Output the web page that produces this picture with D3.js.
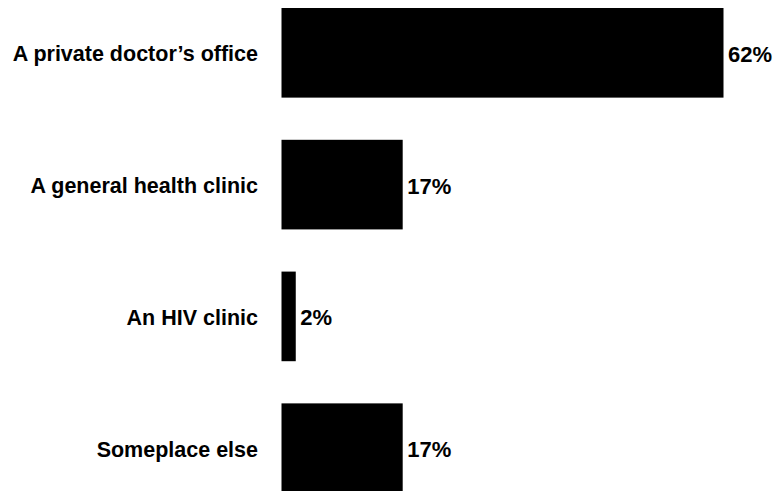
<!DOCTYPE html>
<html lang="en">
    <head>
        <meta charset="utf-8">
        <title>Where tested</title>
        <script src="https://cdn.jsdelivr.net/npm/d3@7"></script>
        <style>
            body { margin: 0; background: #fff; overflow: hidden; }
            svg { display: block; }
            svg text { font-family: "Liberation Sans", Arial, sans-serif; font-weight: bold; fill: #000; }
        </style>
    </head>
    <body>
        <div id="svg-container"></div>
        <script>
            const categories = ["A private doctor\u2019s office", "A general health clinic", "An HIV clinic", "Someplace else"];
            const values = [62, 17, 2, 17];
            const valueLabels = ["62%", "17%", "2%", "17%"];

            const width = 775,
                  height = 491;

            const svg = d3.select("#svg-container")
                .append("svg")
                .attr("width", width)
                .attr("height", height);

            // x scale: 62% reaches about x=723
            const xScale = d3.scaleLinear()
                .domain([0, 62])
                .range([281.5, 723.5]);

            const yScale = d3.scaleBand()
                .domain(categories)
                .range([8, 493])
                .paddingInner(0.32)
                .paddingOuter(0);

            svg.selectAll("rect")
                .data(values)
                .enter()
                .append("rect")
                .attr("x", xScale(0))
                .attr("y", (d, i) => yScale(categories[i]))
                .attr("width", (d) => xScale(d) - xScale(0))
                .attr("height", yScale.bandwidth())
                .attr("fill", "#000");

            // category labels on the left
            svg.selectAll("text.cat")
                .data(categories)
                .enter()
                .append("text")
                .attr("class", "cat")
                .attr("x", xScale(0) - 23.5)
                .attr("y", (d) => yScale(d) + yScale.bandwidth() / 2 + 1.5)
                .attr("text-anchor", "end")
                .attr("dominant-baseline", "central")
                .style("font-size", "21.5px")
                .text((d) => d);

            // value labels right of bars
            svg.selectAll("text.val")
                .data(values)
                .enter()
                .append("text")
                .attr("class", "val")
                .attr("x", (d) => xScale(d) + 4.5)
                .attr("y", (d, i) => yScale(categories[i]) + yScale.bandwidth() / 2 + 1.5)
                .attr("dominant-baseline", "central")
                .style("font-size", "22px")
                .text((d, i) => valueLabels[i]);
        </script>
    </body>
</html>
